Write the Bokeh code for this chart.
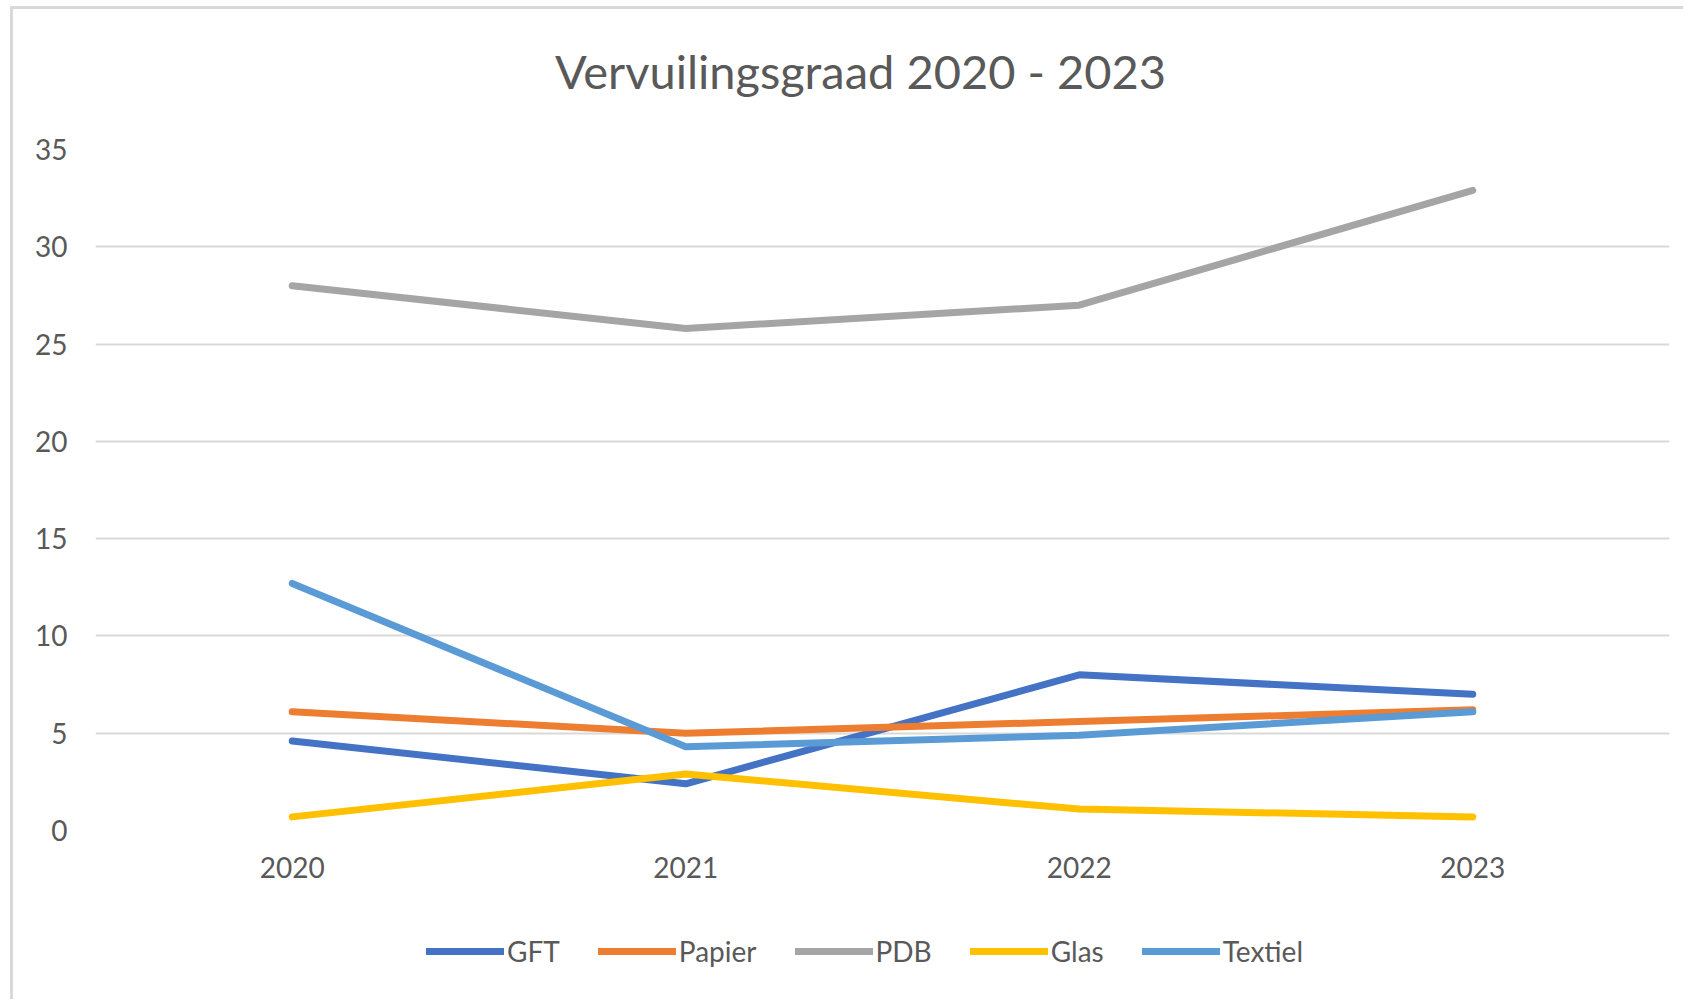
from bokeh.plotting import figure
from bokeh.models import FactorRange, Range1d, FixedTicker, Legend, LegendItem, Label
from bokeh.layouts import column
from bokeh.embed import file_html
from bokeh.resources import INLINE

# ---- data ----
years = ["2020", "2021", "2022", "2023"]
gft = [4.6, 2.4, 8.0, 7.0]
papier = [6.1, 5.0, 5.6, 6.2]
pdb = [28.0, 25.8, 27.0, 32.9]
glas = [0.7, 2.9, 1.1, 0.7]
textiel = [12.7, 4.3, 4.9, 6.1]
series_names = ["GFT", "Papier", "PDB", "Glas", "Textiel"]
y_ticks = [0, 5, 10, 15, 20, 25, 30, 35]
title_text = "Vervuilingsgraad 2020 - 2023"

colors = ["#4472C4", "#ED7D31", "#A5A5A5", "#FFC000", "#5B9BD5"]
FONT = "Lato"
TXT = "#595959"
W = 1670
NAN = float("nan")


def blank(height):
    f = figure(width=W, height=height, x_range=Range1d(0, 1), y_range=Range1d(0, 1),
               x_axis_type=None, y_axis_type=None, output_backend="svg",
               toolbar_location=None, min_border=0)
    f.outline_line_color = None
    f.xgrid.visible = False
    f.ygrid.visible = False
    f.background_fill_color = "white"
    f.border_fill_color = "white"
    return f


# ---- title strip ----
pt = blank(110)
pt.add_layout(Label(x=765, y=49, x_units="screen", y_units="screen", text=title_text,
                    text_align="center", text_baseline="middle", text_font=FONT,
                    text_font_size="47px", text_color=TXT))

# ---- main chart ----
p = figure(
    x_range=FactorRange(*years, range_padding=0),
    y_range=Range1d(0, 35),
    width=W, height=780,
    output_backend="svg", toolbar_location=None,
    min_border_left=82, min_border_right=14,
    min_border_top=30, min_border_bottom=69,
)
p.outline_line_color = None
p.background_fill_color = "white"
p.border_fill_color = "white"
p.xgrid.visible = False
p.ygrid.grid_line_color = "#D9D9D9"
p.ygrid.grid_line_width = 2
p.yaxis.ticker = FixedTicker(ticks=y_ticks)
for ax in (p.xaxis[0], p.yaxis[0]):
    ax.axis_line_color = None
    ax.major_tick_line_color = None
    ax.minor_tick_line_color = None
    ax.major_tick_out = 0
    ax.major_tick_in = 0
    ax.major_label_text_font = FONT
    ax.major_label_text_font_size = "28px"
    ax.major_label_text_color = TXT
p.yaxis.major_label_standoff = 28
p.xaxis.major_label_standoff = 26

all_series = [gft, papier, pdb, glas, textiel]
for vals, col in zip(all_series, colors):
    p.line(years, vals, line_color=col, line_width=7, line_cap="round", line_join="round")

# ---- legend strip ----
pl = blank(100)
items = []
for name, col in zip(series_names, colors):
    r = pl.line(x=[NAN], y=[NAN], line_color=col, line_width=7, line_cap="round")
    items.append(LegendItem(label=name, renderers=[r]))
legend = Legend(items=items, orientation="horizontal", location=(331, 31),
                glyph_width=78, glyph_height=30, label_standoff=3, spacing=38,
                padding=0, margin=0, border_line_color=None, background_fill_alpha=0,
                label_text_font=FONT, label_text_font_size="28px", label_text_color=TXT)
pl.add_layout(legend, "center")

layout = column(pt, p, pl, spacing=0,
                styles={"margin-left": "10px", "margin-top": "6px",
                        "border-left": "3px solid #D9D9D9", "border-top": "3px solid #D9D9D9"})

open("out.html", "w").write(file_html(layout, INLINE))
